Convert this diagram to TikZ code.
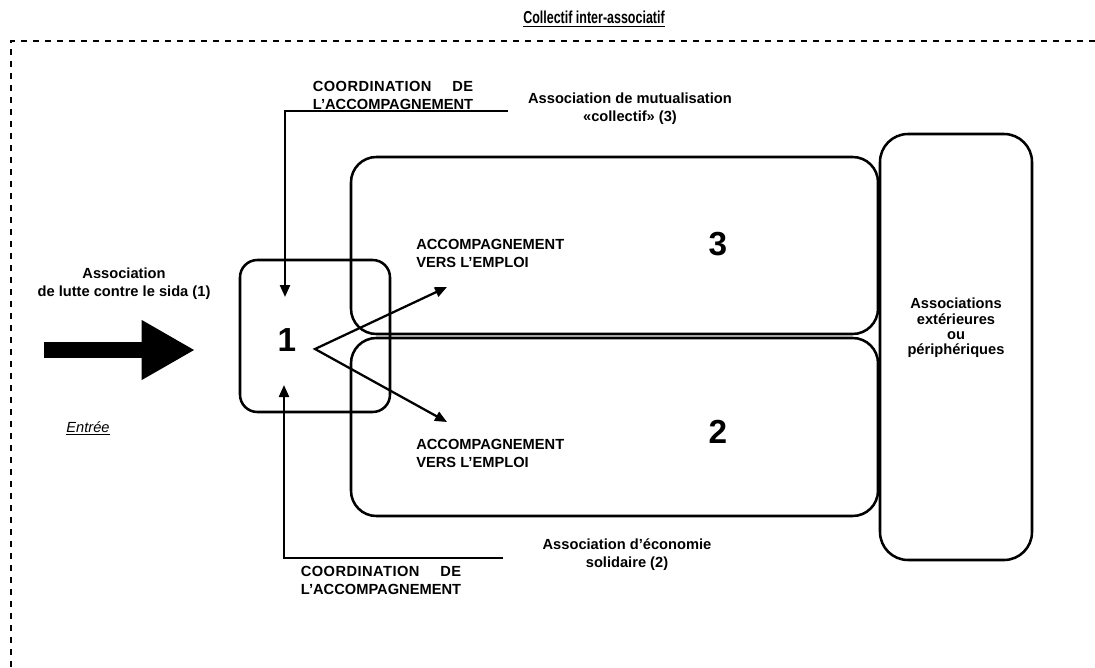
\documentclass[tikz,border=0pt]{standalone}
\usepackage{fontspec}
\setmainfont{Liberation Sans}
\newfontfamily\titrefont{Liberation Sans}[FakeStretch=0.72]
\usetikzlibrary{arrows.meta}
\usetikzlibrary{fit}
\newlength{\largeurcoord}
\newcommand{\coordtexte}{\settowidth{\largeurcoord}{L’ACCOMPAGNEMENT}\makebox[\largeurcoord][s]{\addfontfeature{LetterSpace=3}COORDINATION\hfill DE}\\L’ACCOMPAGNEMENT}

\tikzset{
  boite/.style={draw, line width=1.9pt, inner sep=0pt},
  etiq/.style={font=\bfseries\fontsize{11}{13.5}\selectfont, align=center, inner sep=0pt},
  chiffre/.style={font=\bfseries\fontsize{25}{25}\selectfont, inner sep=0pt},
  fleche/.style={line width=1.7pt, -{Triangle[length=9pt,width=7.5pt]}},
  doublefleche/.style={line width=1.7pt, {Triangle[length=9pt,width=7.5pt]}-{Triangle[length=9pt,width=7.5pt]}},
  cadre/.style={line width=1.8pt, dash pattern=on 4.5pt off 4.5pt},
}

\begin{document}
\begin{tikzpicture}[x=0.75pt,y=0.75pt,yscale=-1,xscale=1]
\useasboundingbox (0,0) rectangle (1095,667);

%Cadre du collectif
\draw[cadre] (1095,41) -- (11,41) -- (11,667);
\node[font=\titrefont\bfseries\fontsize{13}{15}\selectfont, inner sep=0pt] (titre) at (594,19) {\underline{Collectif inter-associatif}};

%Boites
\node[boite, rounded corners=13pt, fit={(240,260) (390,412)}] (boite1) {};
\node[boite, rounded corners=19pt, fit={(351,157) (878,334)}] (boite3) {};
\node[boite, rounded corners=19pt, fit={(351,338) (878,516)}] (boite2) {};
\node[boite, rounded corners=21pt, fit={(880,134) (1032,560)}] (boiteext) {};

%Chiffres
\node[chiffre] (un) at (287,340) {1};
\node[chiffre] (trois) at (718,244) {3};
\node[chiffre] (deux) at (718,432) {2};

%Textes
\node[etiq] (lutte) at (124,284) {Association\\de lutte contre le sida (1)};
\node[font=\itshape\fontsize{11}{13}\selectfont, inner sep=0pt] (entree) at (88,428) {\underline{Entrée}};
\node[etiq, anchor=west, align=left] (acc3) at (416,253) {ACCOMPAGNEMENT\\VERS L’EMPLOI};
\node[etiq, anchor=west, align=left] (acc2) at (416,453) {ACCOMPAGNEMENT\\VERS L’EMPLOI};
\node[etiq] (mutual) at (630,109) {Association de mutualisation\\«collectif» (3)};
\node[etiq] (econ) at (627,555) {Association d’économie\\solidaire (2)};
\node[etiq, font=\bfseries\fontsize{11}{11.5}\selectfont] (ext) at (956,328) {Associations\\extérieures\\ou\\périphériques};
\node[etiq] (coordhaut) at (393,95) {\coordtexte};
\node[etiq] (coordbas) at (381,580) {\coordtexte};

%Entree
\coordinate (entreedebut) at (44,350);
\coordinate (entreefin) at (195,350);
\draw[line width=12.5pt, -{Triangle[length=40pt,width=42pt]}] (entreedebut) -- (entreefin);

%Accompagnement
\coordinate (sommet) at (315,349);
\coordinate (pointe3) at (447,287);
\coordinate (pointe2) at (447,422);
\draw[doublefleche] (pointe3) -- (sommet) -- (pointe2);

%Coordination
\coordinate (hautfin) at (508,111);
\coordinate (hautcoin) at (285,111);
\coordinate (hautpointe) at (285,297);
\draw[fleche] (hautfin) -- (hautcoin) -- (hautpointe);
\coordinate (basfin) at (503,558);
\coordinate (bascoin) at (284,558);
\coordinate (baspointe) at (284,385);
\draw[fleche] (basfin) -- (bascoin) -- (baspointe);
\end{tikzpicture}
\end{document}
